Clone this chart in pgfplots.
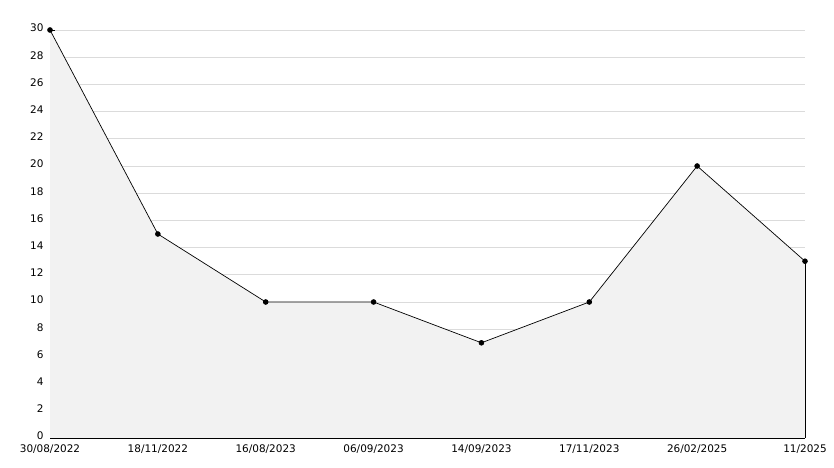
\documentclass[border=0pt]{standalone}
\usepackage{fontspec}
\setmainfont{DejaVu Sans}
\usepackage{pgfplots}
\pgfplotsset{compat=1.18}
\begin{document}
\begin{tikzpicture}
\useasboundingbox (-50bp,-30bp) rectangle (784bp,438bp);
\begin{axis}[
  scale only axis,
  width=755bp, height=408bp,
  xmin=0, xmax=7, ymin=0, ymax=30,
  axis lines=left,
  axis line style={-, black, line width=0.8bp},
  clip=false,
  xtick={0,1,2,3,4,5,6,7},
  xticklabels={30/08/2022,18/11/2022,16/08/2023,06/09/2023,14/09/2023,17/11/2023,26/02/2025,11/2025},
  ytick={0,2,...,30},
  minor ytick={1,3,...,29},
  tick align=inside,
  major tick length=5bp,
  minor tick length=4bp,
  tick style={black, line width=0.8bp},
  ymajorgrids,
  major grid style={draw=gray!28, line width=0.8bp},
  /pgf/number format/assume math mode=true,
  ticklabel style={font=\fontsize{10.5}{12}\selectfont},
  yticklabel style={xshift=-3bp, yshift=2bp},
  xticklabel style={yshift=-3.5bp},
]
\addplot[fill=black!5, draw=none] coordinates {
 (0,30) (1,15) (2,10) (3,10) (4,7) (5,10) (6,20) (7,13)
} \closedcycle;
\addplot[draw=black, line width=0.7bp] coordinates {(7,13) (7,0)};
\addplot[draw=black, line width=0.7bp, mark=*, mark size=2.4bp, mark options={fill=black}] coordinates {
 (0,30) (1,15) (2,10) (3,10) (4,7) (5,10) (6,20) (7,13)
};
\end{axis}
\end{tikzpicture}
\end{document}
